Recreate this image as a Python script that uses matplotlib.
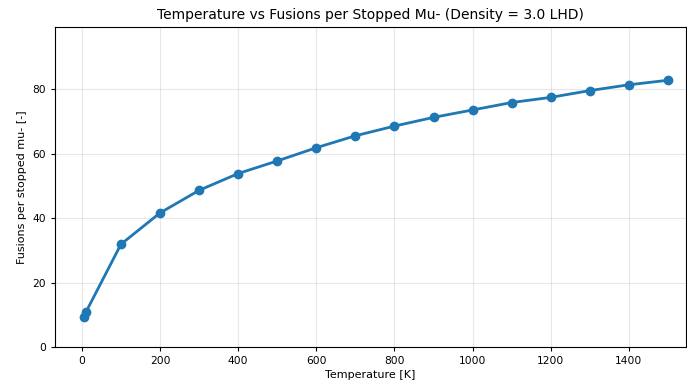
import numpy as np
import matplotlib.pyplot as plt

# Temperatura [K] y fusiones por muon detenido
temperature = [5, 10, 100, 200, 300, 400, 500, 600, 700, 800, 900, 1000, 1100, 1200, 1300, 1400, 1500]
fusions = [9.2, 10.8, 31.9, 41.6, 48.6, 53.8, 57.7, 61.8, 65.5, 68.5, 71.2, 73.5, 75.8, 77.4, 79.5, 81.3, 82.7]

fig = plt.figure(figsize=(6.87, 3.84), dpi=100)
ax = fig.add_axes([0.080, 0.096, 0.9185, 0.834])

ax.plot(temperature, fusions, marker='o', color='#1f77b4', linewidth=2, markersize=6)

ax.set_title('Temperature vs Fusions per Stopped Mu- (Density = 3.0 LHD)', fontsize=10)
ax.set_xlabel('Temperature [K]', fontsize=8, labelpad=3)
ax.set_ylabel('Fusions per stopped mu- [-]', fontsize=8)
ax.tick_params(labelsize=7.7, length=3)
ax.set_xlim(-69, 1546)
ax.set_ylim(0, max(fusions) * 1.2)
ax.grid(True, alpha=0.3)

fig.savefig('out.png', dpi=100)
